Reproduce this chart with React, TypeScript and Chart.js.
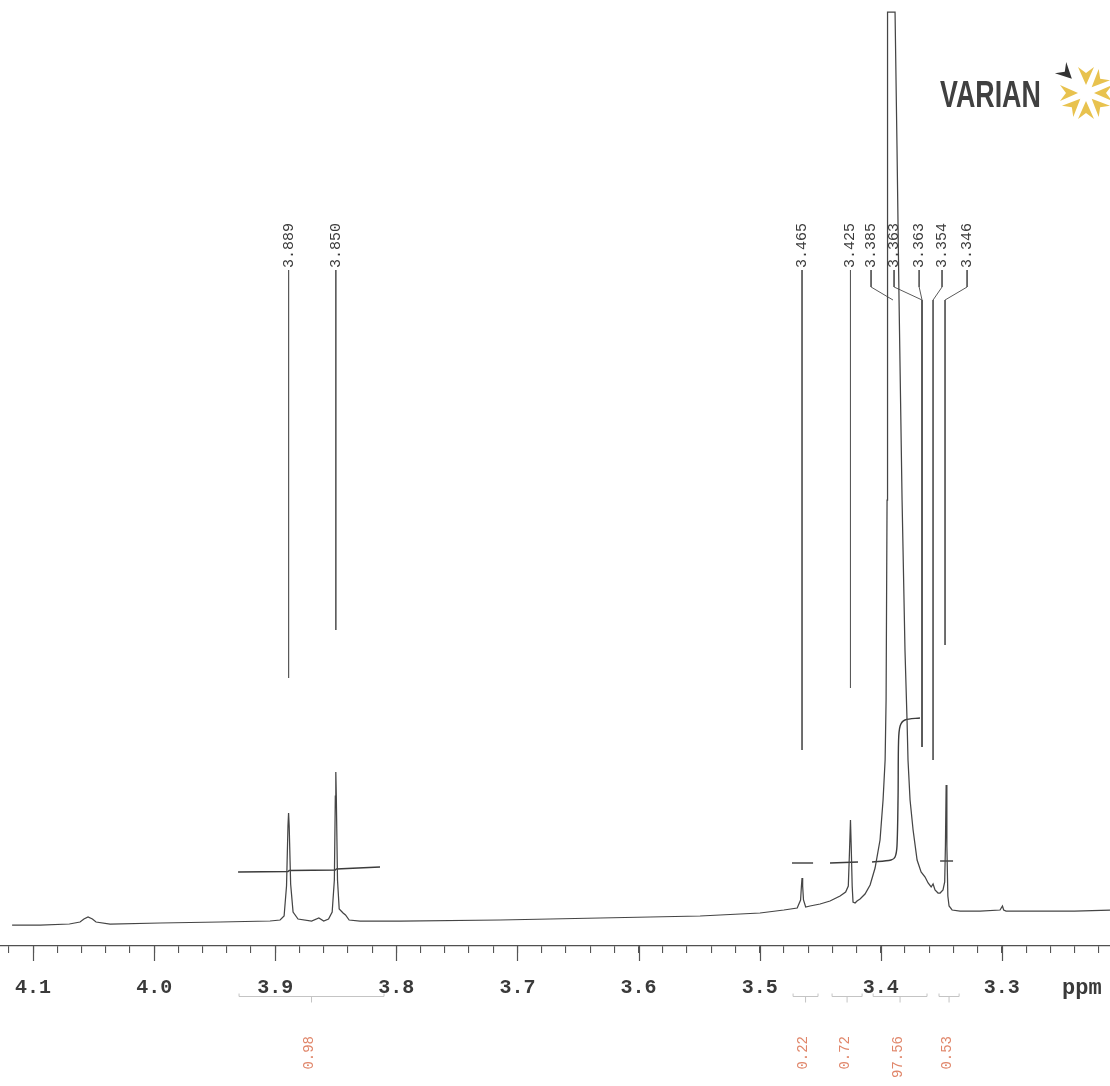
import React, { useEffect, useRef } from "react";
import { Chart, registerables } from "chart.js";

Chart.register(...registerables);

// ---------------- data (ppm, intensity) ----------------
const SPEC_PPM = [
  4.1173, 4.0942, 4.07, 4.0612, 4.058, 4.0546, 4.051, 4.048, 4.0364, 3.9951, 3.9456, 3.9043,
  3.896, 3.8927, 3.8907, 3.8895, 3.889, 3.8885, 3.8873, 3.8853, 3.8812, 3.87, 3.864, 3.86,
  3.856, 3.853, 3.8512, 3.8504, 3.85, 3.8496, 3.8486, 3.8472, 3.844, 3.842, 3.839, 3.83,
  3.797, 3.7144, 3.6318, 3.5492, 3.4997, 3.48, 3.469, 3.4662, 3.4655, 3.465, 3.4645, 3.4638,
  3.462, 3.4584, 3.4501, 3.4419, 3.4336, 3.429, 3.4268, 3.4258, 3.425, 3.4244, 3.4236, 3.4229,
  3.4212, 3.4196, 3.4171, 3.413, 3.4088, 3.4047, 3.4006, 3.3981, 3.3964, 3.3956, 3.3948, 3.3944,
  3.3882, 3.3866, 3.3849, 3.3824, 3.38, 3.3783, 3.3775, 3.3758, 3.3733, 3.37, 3.3667, 3.3634,
  3.3609, 3.3584, 3.3568, 3.3552, 3.3527, 3.351, 3.3486, 3.3472, 3.3466, 3.346, 3.3454, 3.3446,
  3.3436, 3.3411, 3.3345, 3.318, 3.3015, 3.2995, 3.2985, 3.2965, 3.2685, 3.24, 3.2107,
];
const SPEC_INT = [
  21, 21, 22, 24, 27, 29, 27, 24, 22, 23, 24, 25,
  26, 30, 60, 120, 133, 120, 62, 34, 27, 25, 28, 25,
  27, 34, 66, 150, 174, 150, 66, 37, 33, 31, 26, 25,
  25, 26, 28, 30, 33, 36, 38, 46, 60, 68, 60, 46,
  39, 40, 42, 45, 50, 54, 60, 95, 126, 100, 60, 44,
  43, 45, 47, 52, 61, 78, 106, 146, 186, 246, 446, 934,
  934, 800, 646, 446, 296, 226, 186, 146, 116, 86, 74, 69,
  63, 59, 62, 56, 53, 53, 56, 64, 100, 161, 100, 50,
  40, 36, 35, 35, 36, 40, 36, 35, 35, 35, 36,
];

// integral traces
const INT1_PPM = [3.9307, 3.8895, 3.8885, 3.8505, 3.8495, 3.8135];
const INT1_VAL = [74, 74.5, 75.5, 76, 77, 79];
const INT2_PPM = [3.4733, 3.4559];
const INT2_VAL = [83, 83];
const INT3_PPM = [3.4419, 3.4188];
const INT3_VAL = [83, 84];
const INT4_PPM = [3.4072, 3.3915, 3.3882, 3.3866, 3.3857, 3.3853, 3.384, 3.38, 3.3676];
const INT4_VAL = [84, 86, 89, 100, 150, 205, 220, 226, 228];
const INT5_PPM = [3.351, 3.3403];
const INT5_VAL = [85, 85];

// peak picking labels
const PEAK_LABELS = ["3.889", "3.850", "3.465", "3.425", "3.385", "3.363", "3.363", "3.354", "3.346"];
const PEAK_LABEL_PPM = [3.889, 3.85, 3.465, 3.425, 3.408, 3.389, 3.3683, 3.3494, 3.3287];
const PEAK_TARGET_PPM = [3.889, 3.85, 3.465, 3.425, 3.3899, 3.3659, 3.3659, 3.3568, 3.3469];
const PEAK_LINE_END = [268, 316, 196, 258, 646, 199, 199, 186, 301];
const LABEL_TEXT_BASE = 678;
const LEADER_TOP = 676;
const LEADER_KNEE = 659;
const LEADER_BEND = 646;

// integral regions and values
const INTEGRAL_FROM = [3.9299, 3.4724, 3.4402, 3.4063, 3.3519];
const INTEGRAL_TO = [3.8102, 3.4518, 3.4154, 3.3618, 3.3353];
const INTEGRAL_VALUES = ["0.98", "0.22", "0.72", "97.56", "0.53"];

// axis
const MAJOR_TICKS = ["4.1", "4.0", "3.9", "3.8", "3.7", "3.6", "3.5", "3.4", "3.3"];
const X_MIN = 3.2107;
const X_MAX = 4.1273;
const Y_MAX = 936;

const pts = (xs: number[], ys: number[]) => xs.map((x, i) => ({ x, y: ys[i] }));

const decorPlugin = {
  id: "nmrDecor",
  afterDatasetsDraw(chart: any) {
    const ctx = chart.ctx as CanvasRenderingContext2D;
    const xs = chart.scales.x;
    const ys = chart.scales.y;
    const axisY = xs.top;
    ctx.save();

    // major ticks (longer)
    ctx.strokeStyle = "#555";
    ctx.lineWidth = 1.2;
    MAJOR_TICKS.forEach((t) => {
      const px = Math.round(xs.getPixelForValue(parseFloat(t))) + 0.5;
      ctx.beginPath();
      ctx.moveTo(px, axisY);
      ctx.lineTo(px, axisY + 15);
      ctx.stroke();
    });

    // tick labels
    ctx.font = 'bold 20px "Liberation Mono", "DejaVu Sans Mono", monospace';
    ctx.fillStyle = "#3a3a3a";
    ctx.textAlign = "center";
    ctx.textBaseline = "middle";
    MAJOR_TICKS.forEach((t) => {
      const px = xs.getPixelForValue(parseFloat(t));
      ctx.fillText(t, px, axisY + 42);
    });
    ctx.textAlign = "left";
    ctx.font = 'bold 22px "Liberation Mono", "DejaVu Sans Mono", monospace';
    ctx.fillText("ppm", xs.right - 48, axisY + 42);

    // integral brackets
    ctx.strokeStyle = "#c4c4c4";
    ctx.lineWidth = 1;
    INTEGRAL_FROM.forEach((f, i) => {
      const a = xs.getPixelForValue(f);
      const b = xs.getPixelForValue(INTEGRAL_TO[i]);
      const y = axisY + 50.5;
      const c = (a + b) / 2;
      ctx.beginPath();
      ctx.moveTo(a, y - 3);
      ctx.lineTo(a, y);
      ctx.lineTo(b, y);
      ctx.lineTo(b, y - 3);
      ctx.moveTo(c, y);
      ctx.lineTo(c, y + 6);
      ctx.stroke();
    });

    // integral values
    ctx.font = '14px "Liberation Mono", "DejaVu Sans Mono", monospace';
    ctx.fillStyle = "#e0866a";
    ctx.textAlign = "right";
    ctx.textBaseline = "middle";
    INTEGRAL_FROM.forEach((f, i) => {
      const a = xs.getPixelForValue(f);
      const b = xs.getPixelForValue(INTEGRAL_TO[i]);
      const c = (a + b) / 2 - 2;
      ctx.save();
      ctx.translate(c, axisY + 90);
      ctx.rotate(-Math.PI / 2);
      ctx.fillText(INTEGRAL_VALUES[i], 0, 0);
      ctx.restore();
    });

    // peak labels
    ctx.font = '15px "Liberation Mono", "DejaVu Sans Mono", monospace';
    ctx.fillStyle = "#3a3a3a";
    ctx.textAlign = "left";
    ctx.textBaseline = "middle";
    PEAK_LABELS.forEach((lab, i) => {
      const px = xs.getPixelForValue(PEAK_LABEL_PPM[i]);
      const py = ys.getPixelForValue(LABEL_TEXT_BASE);
      ctx.save();
      ctx.translate(px, py);
      ctx.rotate(-Math.PI / 2);
      ctx.fillText(lab, 0, 0);
      ctx.restore();
    });

    // VARIAN logo
    ctx.save();
    ctx.translate(940, 107);
    ctx.scale(0.725, 1);
    ctx.font = 'bold 37px "Liberation Sans", Arial, sans-serif';
    ctx.fillStyle = "#404040";
    ctx.textAlign = "left";
    ctx.textBaseline = "alphabetic";
    ctx.fillText("VARIAN", 0, 0);
    ctx.restore();

    const cx = 1086;
    const cy = 93;
    for (let k = 0; k < 8; k++) {
      const th = (k * Math.PI) / 4;
      const dx = Math.cos(th);
      const dy = -Math.sin(th);
      const qx = -dy;
      const qy = dx;
      const dark = k === 3;
      const r0 = dark ? 20 : 8;
      const r1 = dark ? 36 : 26;
      const w = dark ? 8 : 8;
      ctx.beginPath();
      ctx.moveTo(cx + dx * r0, cy + dy * r0);
      ctx.lineTo(cx + dx * r1 + qx * w, cy + dy * r1 + qy * w);
      ctx.lineTo(cx + dx * (r1 - 6), cy + dy * (r1 - 6));
      ctx.lineTo(cx + dx * r1 - qx * w, cy + dy * r1 - qy * w);
      ctx.closePath();
      ctx.fillStyle = dark ? "#333333" : "#e8c24e";
      ctx.fill();
    }

    ctx.restore();
  },
};

export default function App() {
  const ref = useRef<HTMLCanvasElement | null>(null);

  useEffect(() => {
    if (!ref.current) return;
    const leaderSets = PEAK_LABELS.map((lab, i) => {
      const lx = PEAK_LABEL_PPM[i];
      const tx = PEAK_TARGET_PPM[i];
      const data =
        lx === tx
          ? [
              { x: lx, y: LEADER_TOP },
              { x: tx, y: PEAK_LINE_END[i] },
            ]
          : [
              { x: lx, y: LEADER_TOP },
              { x: lx, y: LEADER_KNEE },
              { x: tx, y: LEADER_BEND },
              { x: tx, y: PEAK_LINE_END[i] },
            ];
      return {
        label: "leader " + lab,
        data,
        borderColor: "#5a5a5a",
        borderWidth: 1,
        pointRadius: 0,
        tension: 0,
      };
    });
    const integralStyle = {
      borderColor: "#3c3c3c",
      borderWidth: 1.4,
      pointRadius: 0,
      tension: 0.2,
    };
    const minorTicks: { value: number }[] = [];
    for (let i = 322; i <= 412; i += 2) minorTicks.push({ value: i / 100 });

    const chart = new Chart(ref.current, {
      type: "line",
      data: {
        datasets: [
          {
            label: "spectrum",
            data: pts(SPEC_PPM, SPEC_INT),
            borderColor: "#454545",
            borderWidth: 1.25,
            pointRadius: 0,
            tension: 0,
          },
          { label: "int1", data: pts(INT1_PPM, INT1_VAL), ...integralStyle, tension: 0 },
          { label: "int2", data: pts(INT2_PPM, INT2_VAL), ...integralStyle },
          { label: "int3", data: pts(INT3_PPM, INT3_VAL), ...integralStyle },
          { label: "int4", data: pts(INT4_PPM, INT4_VAL), ...integralStyle, tension: 0.3 },
          { label: "int5", data: pts(INT5_PPM, INT5_VAL), ...integralStyle },
          ...leaderSets,
        ] as any,
      },
      options: {
        animation: false,
        responsive: false,
        devicePixelRatio: 1,
        layout: { padding: { top: 10, left: 0, right: 0, bottom: 0 } },
        plugins: { legend: { display: false }, tooltip: { enabled: false } },
        events: [],
        scales: {
          x: {
            type: "linear",
            reverse: true,
            min: X_MIN,
            max: X_MAX,
            afterBuildTicks: (scale: any) => {
              scale.ticks = minorTicks.map((t) => ({ value: t.value }));
            },
            afterFit: (scale: any) => {
              scale.height = 140;
            },
            grid: {
              display: true,
              drawOnChartArea: false,
              drawTicks: true,
              tickLength: 7,
              color: "#555",
              lineWidth: 1.1,
            },
            border: { display: true, color: "#505050", width: 1.3 },
            ticks: { display: false },
          },
          y: { type: "linear", display: false, min: 0, max: Y_MAX },
        },
      } as any,
      plugins: [decorPlugin],
    });
    return () => chart.destroy();
  }, []);

  return (
    <div style={{ position: "absolute", left: 0, top: 0, width: 1110, height: 1086, background: "#fff" }}>
      <canvas ref={ref} width={1110} height={1086} style={{ width: 1110, height: 1086, display: "block" }} />
    </div>
  );
}
